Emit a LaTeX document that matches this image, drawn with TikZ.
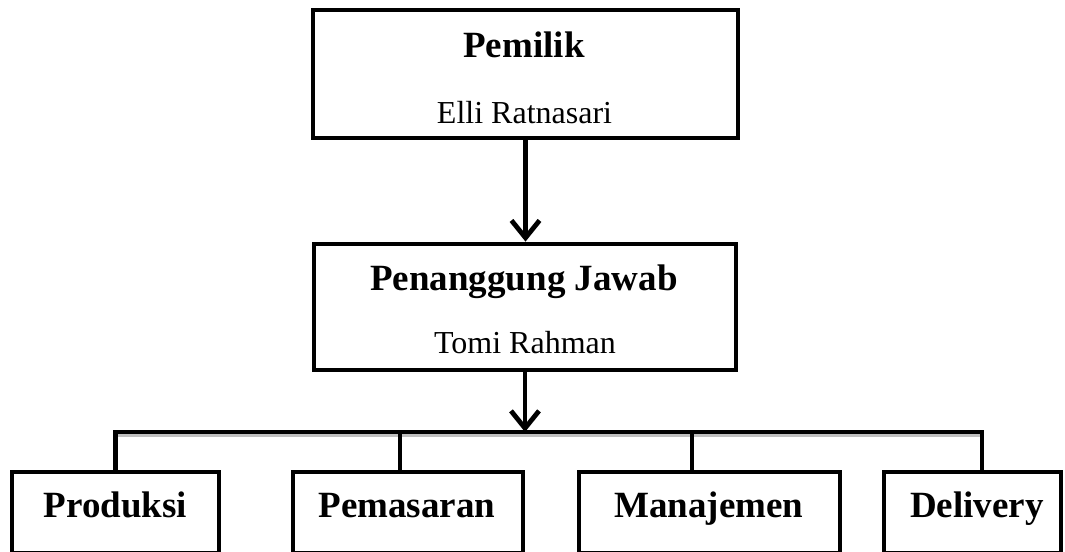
\documentclass[tikz,border=0pt]{standalone}
\usepackage{fontspec}
\setmainfont{Liberation Serif}
\usetikzlibrary{arrows.meta}
\tikzset{
  kotak/.style={draw, rectangle, line width=3.6pt, inner sep=0pt},
  link/.style={line width=3.6pt},
  panah/.style={-{Straight Barb[length=13pt,width=21pt]}},
  bayang/.style={draw=gray!50, line width=3.6pt, transform canvas={yshift=-2pt}},
  jabatan/.style={font=\fontsize{27.75}{32}\selectfont\bfseries, anchor=base, inner sep=0pt},
  nama/.style={font=\fontsize{24}{28}\selectfont, anchor=base, inner sep=0pt}
}

\begin{document}
\begin{tikzpicture}[x=0.75pt,y=-0.75pt]
\useasboundingbox (0,0) rectangle (1065,551);
% kotak
\node[kotak, minimum width=318.75pt, minimum height=96pt] (pemilik) at (525.5,74) {};
\node[kotak, minimum width=316.5pt, minimum height=94.5pt] (pj) at (525,307) {};
\node[kotak, minimum width=155.25pt, minimum height=60.75pt] (produksi) at (115.5,512.5) {};
\node[kotak, minimum width=172.5pt, minimum height=60.75pt] (pemasaran) at (408,512.5) {};
\node[kotak, minimum width=195.75pt, minimum height=60.75pt] (manajemen) at (709.5,512.5) {};
\node[kotak, minimum width=132.75pt, minimum height=60.75pt] (delivery) at (972.5,512.5) {};
% teks
\node[jabatan] (tPemilik) at (524,57) {Pemilik};
\node[nama] (tElli) at (524.5,123) {Elli Ratnasari};
\node[jabatan] (tPJ) at (524,290) {Penanggung Jawab};
\node[nama] (tTomi) at (525,353) {Tomi Rahman};
\node[jabatan] (tProduksi) at (115.5,517) {Produksi};
\node[jabatan] (tPemasaran) at (407,517) {Pemasaran};
\node[jabatan] (tManajemen) at (709,517) {Manajemen};
\node[jabatan] (tDelivery) at (977,517) {Delivery};
% garis
\coordinate (kiri) at (115.5,432);
\coordinate (kanan) at (982,432);
\coordinate (c2) at (400,432);
\coordinate (c3) at (692,432);
\draw[bayang] (kiri) -- (kanan);
\draw[link] (kiri |- produksi.north) -- (kiri) -- (kanan) -- (kanan |- delivery.north);
\draw[link] (c2) -- (c2 |- pemasaran.north);
\draw[link] (c3) -- (c3 |- manajemen.north);
\draw[link,panah] (pemilik.south) -- (pemilik.south |- pj.north);
\draw[link,panah] (pj.south) -- (pj.south |- kiri);
\end{tikzpicture}
\end{document}
